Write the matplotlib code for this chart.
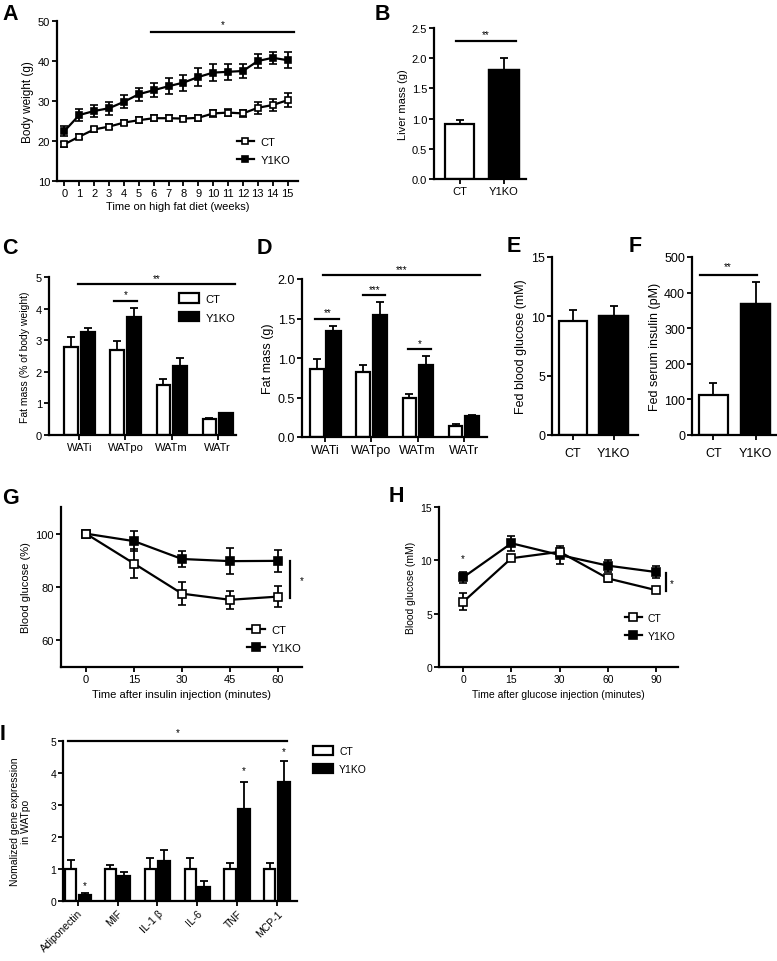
import matplotlib
matplotlib.use("Agg")
import matplotlib.pyplot as plt
from matplotlib.lines import Line2D
from matplotlib.patches import Patch
import numpy as np

plt.rcParams['font.family'] = ['Liberation Sans', 'DejaVu Sans']
plt.rcParams['font.size'] = 7.5

# ---- data ----
weeks = list(range(16))
a_ct = [19.2, 21.1, 22.9, 23.6, 24.6, 25.2, 25.7, 25.7, 25.6, 25.8, 26.9, 27.1, 26.9, 28.3, 29.0, 30.2]
a_ct_err = [0.6, 0.6, 0.6, 0.6, 0.6, 0.7, 0.8, 0.8, 0.7, 0.8, 0.9, 0.9, 0.9, 1.5, 1.6, 1.7]
a_ko = [22.5, 26.5, 27.5, 28.2, 29.8, 31.7, 32.7, 33.7, 34.6, 36.0, 37.1, 37.3, 37.5, 40.0, 40.8, 40.2]
a_ko_err = [1.2, 1.5, 1.6, 1.6, 1.6, 1.6, 1.7, 2.0, 2.0, 2.3, 2.1, 2.0, 1.8, 1.7, 1.5, 2.0]

groups = ['CT', 'Y1KO']
liver = [0.91, 1.81]
liver_err = [0.07, 0.19]

depots = ['WATi', 'WATpo', 'WATm', 'WATr']
c_ct = [2.78, 2.70, 1.59, 0.50]
c_ct_err = [0.31, 0.26, 0.18, 0.05]
c_ko = [3.25, 3.73, 2.17, 0.69]
c_ko_err = [0.14, 0.28, 0.28, 0.02]

d_ct = [0.86, 0.82, 0.49, 0.145]
d_ct_err = [0.13, 0.09, 0.06, 0.02]
d_ko = [1.34, 1.545, 0.91, 0.27]
d_ko_err = [0.06, 0.16, 0.11, 0.01]

glucose_fed = [9.6, 10.0]
glucose_fed_err = [0.9, 0.85]
insulin_fed = [113, 369]
insulin_fed_err = [34, 61]

itt_t = [0, 15, 30, 45, 60]
itt_ct = [100, 88.8, 77.5, 75.2, 76.4]
itt_ct_err = [0.5, 5.6, 4.3, 3.3, 3.8]
itt_ko = [100, 97.2, 90.5, 89.7, 89.8]
itt_ko_err = [0.5, 3.7, 3.0, 5.0, 4.0]

gtt_t = ['0', '15', '30', '60', '90']
gtt_ct = [6.1, 10.2, 10.8, 8.3, 7.2]
gtt_ct_err = [0.8, 0.3, 0.4, 0.3, 0.3]
gtt_ko = [8.4, 11.6, 10.5, 9.5, 8.9]
gtt_ko_err = [0.55, 0.7, 0.85, 0.55, 0.6]

genes = ['Adiponectin', 'MIF', 'IL-1 β', 'IL-6', 'TNF', 'MCP-1']
i_ct = [1.0, 1.0, 1.0, 1.0, 1.0, 1.0]
i_ct_err = [0.27, 0.11, 0.33, 0.33, 0.18, 0.2]
i_ko = [0.19, 0.79, 1.24, 0.44, 2.89, 3.73]
i_ko_err = [0.05, 0.11, 0.36, 0.18, 0.84, 0.64]

W, H = 777, 962
fig = plt.figure(figsize=(W / 100, H / 100), dpi=100)


def mkax(x0, x1, y0, y1, fs=7.5):
    ax = fig.add_axes([x0 / W, 1 - y1 / H, (x1 - x0) / W, (y1 - y0) / H])
    for s in ['top', 'right']:
        ax.spines[s].set_visible(False)
    for s in ['left', 'bottom']:
        ax.spines[s].set_linewidth(1.6)
    ax.tick_params(direction='out', length=3.5, width=1.3, pad=1.5, labelsize=fs)
    ax.patch.set_alpha(0)
    return ax


def letter(x, y, t):
    fig.text(x / W, 1 - y / H, t, fontsize=15.5, fontweight='bold', ha='left', va='top')


def line_series(ax, x, y, e, filled, ms=5.5):
    ax.errorbar(x, y, yerr=e, color='black', lw=1.6, elinewidth=1.3, capsize=3, capthick=1.3,
                marker='s', ms=ms, mew=1.2, mfc='black' if filled else 'white', mec='black', zorder=3 if filled else 4)


def bars(ax, x, y, e, filled, w):
    ax.bar(x, y, width=w, color='black' if filled else 'white', edgecolor='black', linewidth=1.6, zorder=2)
    ax.errorbar(x, y, yerr=[np.zeros(len(y)), e], fmt='none', ecolor='black', elinewidth=1.3,
                capsize=3, capthick=1.3, zorder=1)


def sig(ax, x0, x1, y, text, dy):
    ax.plot([x0, x1], [y, y], color='black', lw=1.6, clip_on=False)
    ax.text((x0 + x1) / 2, y + dy, text, ha='center', va='center', fontsize=7, clip_on=False)


def line_handles(ms):
    return [Line2D([], [], color='black', lw=1.6, marker='s', ms=ms, mew=1.2, mfc='white', mec='black'),
            Line2D([], [], color='black', lw=1.6, marker='s', ms=ms, mew=1.2, mfc='black', mec='black')]


box_handles = [Patch(facecolor='white', edgecolor='black', linewidth=1.6),
               Patch(facecolor='black', edgecolor='black', linewidth=1.6)]


def leg(ax, handles, xpix, ypix, hl, hh=0.7, fs=7.5):
    ax.legend(handles, groups, loc='center left', bbox_to_anchor=(xpix / W, 1 - ypix / H),
              bbox_transform=fig.transFigure, frameon=False, borderpad=0, borderaxespad=0,
              handlelength=hl, handleheight=hh, handletextpad=0.6, labelspacing=0.75, fontsize=fs)


# ---- A ----
ax = mkax(57, 298, 22, 182, fs=8)
line_series(ax, weeks, a_ct, a_ct_err, False, ms=5)
line_series(ax, weeks, a_ko, a_ko_err, True, ms=5)
ax.set_xlim(-0.5, 15.7)
ax.set_ylim(10, 50)
ax.set_xticks(weeks)
ax.set_yticks([10, 20, 30, 40, 50])
ax.set_xlabel('Time on high fat diet (weeks)', labelpad=2, fontsize=8)
ax.set_ylabel('Body weight (g)', labelpad=3, fontsize=8.5)
sig(ax, 5.85, 15.4, 47.2, '*', 2.0)
leg(ax, line_handles(5), 237, 152, 1.5, fs=8)
letter(2, 4, 'A')

# ---- B ----
ax = mkax(434, 526, 29, 180, fs=8)
bars(ax, [0, 1], liver, liver_err, False, 0.67)
ax.bar(1, liver[1], width=0.67, color='black', edgecolor='black', linewidth=1.6, zorder=2)
ax.set_xlim(-0.58, 1.5)
ax.set_ylim(0, 2.5)
ax.set_yticks([0, 0.5, 1.0, 1.5, 2.0, 2.5])
ax.set_yticklabels(['0.0', '0.5', '1.0', '1.5', '2.0', '2.5'])
ax.set_xticks([0, 1])
ax.set_xticklabels(groups)
ax.set_ylabel('Liver mass (g)', labelpad=3, fontsize=8)
sig(ax, -0.09, 1.27, 2.28, '**', 0.12)
letter(375, 4, 'B')

# ---- C ----
ax = mkax(49, 236, 278, 436, fs=8)
xc = np.arange(len(depots))
bars(ax, xc - 0.18, c_ct, c_ct_err, False, 0.29)
bars(ax, xc + 0.18, c_ko, c_ko_err, True, 0.31)
ax.set_xlim(-0.66, 3.4)
ax.set_ylim(0, 5)
ax.set_xticks(xc)
ax.set_xticklabels(depots)
ax.set_ylabel('Fat mass (% of body weight)', labelpad=4)
sig(ax, -0.02, 3.37, 4.79, '**', 0.18)
sig(ax, 0.76, 1.26, 4.24, '*', 0.22)
leg(ax, box_handles, 179, 309, 1.8, 0.9, fs=8)
letter(2, 238, 'C')

# ---- D ----
ax = mkax(302, 487, 280, 438, fs=9)
bars(ax, xc - 0.18, d_ct, d_ct_err, False, 0.29)
bars(ax, xc + 0.18, d_ko, d_ko_err, True, 0.31)
ax.set_xlim(-0.5, 3.5)
ax.set_ylim(0, 2)
ax.set_xticks(xc)
ax.set_xticklabels(depots)
ax.set_yticks([0, 0.5, 1.0, 1.5, 2.0])
ax.set_yticklabels(['0.0', '0.5', '1.0', '1.5', '2.0'])
ax.set_ylabel('Fat mass (g)', labelpad=3, fontsize=9)
sig(ax, -0.04, 3.35, 2.05, '***', 0.08)
sig(ax, -0.21, 0.31, 1.5, '**', 0.08)
sig(ax, 0.82, 1.3, 1.8, '***', 0.07)
sig(ax, 1.8, 2.28, 1.115, '*', 0.07)
letter(257, 238, 'D')

# ---- E ----
ax = mkax(552, 638, 258, 436, fs=9)
bars(ax, [0, 1], glucose_fed, glucose_fed_err, False, 0.69)
ax.bar(1, glucose_fed[1], width=0.69, color='black', edgecolor='black', linewidth=1.6, zorder=2)
ax.set_xlim(-0.51, 1.6)
ax.set_ylim(0, 15)
ax.set_yticks([0, 5, 10, 15])
ax.set_xticks([0, 1])
ax.set_xticklabels(groups)
ax.tick_params(axis='x', pad=5)
ax.set_ylabel('Fed blood glucose (mM)', labelpad=3, fontsize=9)
letter(507, 236, 'E')

# ---- F ----
ax = mkax(692, 777, 258, 436, fs=9)
bars(ax, [0, 1], insulin_fed, insulin_fed_err, False, 0.69)
ax.bar(1, insulin_fed[1], width=0.69, color='black', edgecolor='black', linewidth=1.6, zorder=2)
ax.set_xlim(-0.5, 1.5)
ax.set_ylim(0, 500)
ax.set_yticks([0, 100, 200, 300, 400, 500])
ax.set_xticks([0, 1])
ax.set_xticklabels(groups)
ax.tick_params(axis='x', pad=5)
ax.set_ylabel('Fed serum insulin (pM)', labelpad=2, fontsize=9)
sig(ax, -0.32, 1.02, 450, '**', 25)
letter(629, 236, 'F')

# ---- G ----
ax = mkax(61, 302, 508, 668, fs=8)
line_series(ax, itt_t, itt_ct, itt_ct_err, False)
line_series(ax, itt_t, itt_ko, itt_ko_err, True)
ax.set_xlim(-7.8, 67.5)
ax.set_ylim(50, 110)
ax.set_xticks(itt_t)
ax.set_yticks([60, 80, 100])
ax.set_xlabel('Time after insulin injection (minutes)', labelpad=4, fontsize=8)
ax.set_ylabel('Blood glucose (%)', labelpad=3, fontsize=8)
ax.plot([63.75, 63.75], [75.9, 89.6], color='black', lw=1.6)
ax.text(67.3, 82.5, '*', ha='center', va='center', fontsize=7)
leg(ax, line_handles(5.5), 247, 640, 1.6, fs=8)
letter(2, 488, 'G')

# ---- H ----
ax = mkax(439, 678, 508, 668, fs=7.5)
xh = np.arange(len(gtt_t))
line_series(ax, xh, gtt_ct, gtt_ct_err, False)
line_series(ax, xh, gtt_ko, gtt_ko_err, True)
ax.set_xlim(-0.5, 4.45)
ax.set_ylim(0, 15)
ax.set_xticks(xh)
ax.set_xticklabels(gtt_t)
ax.set_yticks([0, 5, 10, 15])
ax.set_xlabel('Time after glucose injection (minutes)', labelpad=4)
ax.set_ylabel('Blood glucose (mM)', labelpad=3)
ax.plot([4.2, 4.2], [7.1, 8.8], color='black', lw=1.6)
ax.text(4.33, 7.9, '*', ha='center', va='center', fontsize=7)
ax.text(0, 10.2, '*', ha='center', va='center', fontsize=7)
leg(ax, line_handles(5.5), 625, 628, 1.6)
letter(389, 486, 'H')

# ---- I ----
ax = mkax(63, 297, 742, 902)
xi = np.arange(len(genes))
bars(ax, xi - 0.18, i_ct, i_ct_err, False, 0.28)
bars(ax, xi + 0.17, i_ko, i_ko_err, True, 0.3)
ax.set_xlim(-0.37, 5.5)
ax.set_ylim(0, 5)
ax.set_xticks(xi)
ax.set_xticklabels(genes, rotation=45, ha='right', rotation_mode='anchor')
ax.set_ylabel('Nomalized gene expression\nin WATpo', labelpad=14, linespacing=1.05)
sig(ax, -0.25, 5.25, 5.0, '*', 0.27)
for k, yy in [(0, 0.5), (4, 4.1), (5, 4.7)]:
    ax.text(k + 0.17, yy, '*', ha='center', va='center', fontsize=7)
leg(ax, box_handles, 313, 761, 1.9, 0.9)
letter(0, 724, 'I')

fig.savefig('out.png', dpi=100)
